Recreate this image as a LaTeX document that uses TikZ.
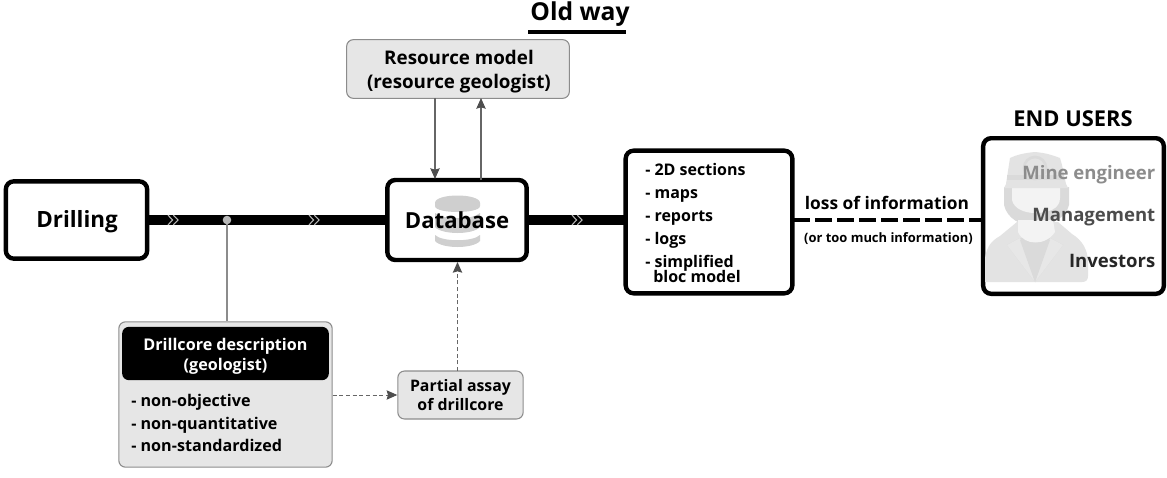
\documentclass[tikz,border=0pt]{standalone}
\usepackage{fontspec}
\setmainfont{Open Sans}[BoldFont={Open Sans Bold}]
\usetikzlibrary{arrows.meta}
\definecolor{boxgray}{HTML}{E6E6E6}
\definecolor{edgegray}{HTML}{8C8C8C}
\definecolor{linegray}{HTML}{666666}
\definecolor{arrowgray}{HTML}{4D4D4D}
\definecolor{minerA}{HTML}{E3E3E3}
\definecolor{minerB}{HTML}{DADADA}
\definecolor{minerC}{HTML}{F3F3F3}
\definecolor{iconGray}{HTML}{CFCFCF}
\tikzset{
 heavybox/.style={draw=black,line width=3.3pt,rounded corners=6pt,fill=white,inner sep=0pt},
 graybox/.style={draw=edgegray,line width=0.8pt,rounded corners=5pt,fill=boxgray,inner sep=0pt},
 txt/.style={font=\bfseries\fontsize{#1}{#1}\selectfont,inner sep=0pt,align=center},
 ltxt/.style={font=\bfseries\fontsize{#1}{#1}\selectfont,inner sep=0pt,anchor=base west},
 rtxt/.style={font=\bfseries\fontsize{#1}{#1}\selectfont,inner sep=0pt,anchor=base east},
 resfont/.style={font=\bfseries\fontsize{14.1}{18}\selectfont,inner sep=0pt,align=center},
 corefont/.style={font=\bfseries\fontsize{12.1}{15}\selectfont,inner sep=0pt,align=center},
 assayfont/.style={font=\bfseries\fontsize{11.9}{14.4}\selectfont,inner sep=0pt,align=center},
 flowline/.style={line width=7.5pt,draw=black},
 thinline/.style={draw=linegray,line width=0.8pt,-{Stealth[length=8pt,width=7pt,inset=1pt,color=arrowgray]}},
 dashline/.style={draw=linegray,line width=0.7pt,densely dashed,-{Stealth[length=8pt,width=7pt,inset=1pt,color=arrowgray]}},
}
\newcommand{\chevrons}[1]{\draw[white!72!black,line width=0.8pt] ([xshift=-4.5pt,yshift=3.6pt]#1) -- ([xshift=-1pt]#1) -- ([xshift=-4.5pt,yshift=-3.6pt]#1) ([xshift=-0.5pt,yshift=3.6pt]#1) -- ([xshift=3pt]#1) -- ([xshift=-0.5pt,yshift=-3.6pt]#1);}
\begin{document}
\begin{tikzpicture}[x=0.75pt,y=-0.75pt]
\useasboundingbox (0,0) rectangle (1167,478);
% title
\node[txt=18.5] (title) at (580,14) {Old way};
\coordinate (ula) at (528,32.5);
\coordinate (ulb) at (626,32.5);
\draw[black,line width=3pt] (ula) -- (ulb);
% flow lines
\coordinate (flowL) at (149,220);
\coordinate (flowM) at (386,220);
\coordinate (flowR) at (528,220);
\coordinate (flowE) at (625,220);
\draw[flowline] (flowL) -- (flowM);
\draw[flowline] (flowR) -- (flowE);
\coordinate (chA) at (174,220);
\coordinate (chB) at (315,220);
\coordinate (chC) at (578,220);
\chevrons{chA}\chevrons{chB}\chevrons{chC}
\node[heavybox,minimum width=106pt,minimum height=58pt] (drill) at (76.5,220) {};
\node[txt=16.8] at (77,222) {Drilling};
\node[heavybox,minimum width=104.5pt,minimum height=60pt] (db) at (457,220) {};
% database icon
\fill[iconGray] (435,203) .. controls (435,193) and (480,193) .. (480,203) -- (480,206) .. controls (480,214) and (435,214) .. (435,206) -- cycle;
\fill[iconGray] (435,213) .. controls (442,220) and (473,220) .. (480,213) -- (480,227) .. controls (473,235) and (442,235) .. (435,227) -- cycle;
\fill[iconGray] (435,235) .. controls (442,242) and (473,242) .. (480,235) -- (480,241) .. controls (473,249) and (442,249) .. (435,241) -- cycle;
\node[txt=16.6] at (457,220) {Database};
% resource model
\node[graybox,minimum width=167pt,minimum height=44pt] (res) at (458,69) {};
\node[resfont] at (459,71.5) {Resource model\\(resource geologist)};
\coordinate (resA) at (435,98);
\coordinate (dbA) at (435,179);
\coordinate (resB) at (481,98);
\coordinate (dbB) at (481,180);
\draw[thinline] (resA) -- (dbA);
\draw[thinline] (dbB) -- (resB);
% list box
\node[heavybox,minimum width=125pt,minimum height=107pt] (list) at (709,222) {};
\node[ltxt=12] at (645,175) {- 2D sections};
\node[ltxt=12] at (645,198) {- maps};
\node[ltxt=12] at (645,221) {- reports};
\node[ltxt=12] at (645,244) {- logs};
\node[ltxt=12] at (645,267) {- simplified};
\node[ltxt=12] at (653,282) {bloc model};
% loss
\node[txt=13] at (887,203) {loss of information};
\node[txt=9.7] at (888.5,239) {(or too much information)};
% end users
\node[txt=16.4] at (1073,118.5) {END USERS};
\node[heavybox,minimum width=135.5pt,minimum height=116.7pt] (users) at (1073.5,216) {};
\coordinate (lossA) at (793,220);
\draw[black,line width=2.7pt,dash pattern=on 12.5pt off 4pt] (lossA) -- (lossA -| users.west);
% miner
\fill[minerA] (985,282) -- (985,258) .. controls (987,245) and (993,240) .. (1000,236) -- (1017,222) -- (1058,222) -- (1072,234) .. controls (1082,240) and (1088,250) .. (1088,262) -- (1088,276) .. controls (1088,280) and (1086,282) .. (1082,282) -- cycle;
\fill[minerB] (1007,245) -- (1035,282) -- (1063,245) -- (1050,238) -- (1020,238) -- cycle;
\fill[minerA!85!white] (1020,238) -- (1007,245) -- (1035,282) -- cycle;
\fill[minerA!85!white] (1050,238) -- (1063,245) -- (1035,282) -- cycle;
\fill[minerB] (1020,240) -- (1035,282) -- (1050,240) -- cycle;
\fill[minerB] (1004,187) -- (1004,205) .. controls (1007,218) and (1020,226) .. (1035,226) .. controls (1050,226) and (1066,218) .. (1069,205) -- (1069,187) -- cycle;
\fill[minerC] (1018,220) -- (1018,232) .. controls (1024,246) and (1046,246) .. (1055,232) -- (1053,220) -- cycle;
\fill[minerC] (1012,187) -- (1012,200) .. controls (1014,209) and (1025,213) .. (1035,213) .. controls (1048,213) and (1060,209) .. (1060,198) -- (1060,187) -- cycle;
\fill[minerA] (1004,188) -- (1068,188) -- (1066,184) -- (1062,165) -- (1060,158) .. controls (1052,155) and (1046,153) .. (1035,152) .. controls (1024,153) and (1016,155) .. (1010,158) -- (1006,184) -- cycle;
\fill[minerB] (1007,175) rectangle (1064,180);
\draw[minerB,line width=2pt] (1035,168) circle[radius=11];
% end-user labels
\node[rtxt=13.9,text=black!45] at (1155.5,179) {Mine engineer};
\node[rtxt=13.9,text=black!70] at (1155.5,221) {Management};
\node[rtxt=13.9,text=black!85] at (1155.5,267) {Investors};
% drillcore
\node[graybox,minimum width=160pt,minimum height=109pt] (dc) at (225.5,394.5) {};
\node[fill=black,rounded corners=5pt,minimum width=155pt,minimum height=40pt,inner sep=0pt] (dchead) at (225.5,353.5) {};
\node[corefont,text=white] at (225.5,356) {Drillcore description\\(geologist)};
\node[ltxt=12.1] at (131,406) {- non-objective};
\node[ltxt=12.1] at (131,429) {- non-quantitative};
\node[ltxt=12.1] at (131,451.5) {- non-standardized};
\coordinate (junction) at (227,220);
\coordinate (dcTop) at (227,321);
\draw[edgegray,line width=0.9pt] (junction) -- (dcTop);
\fill[boxgray!80!black] (junction) circle[radius=4.3];
% assay
\node[graybox,minimum width=94pt,minimum height=36pt] (assay) at (460.5,395) {};
\node[assayfont] at (460.5,395) {Partial assay\\of drillcore};
\coordinate (assayTop) at (457.5,371);
\coordinate (dbBot) at (457.5,262);
\draw[dashline] (assayTop) -- (dbBot);
\draw[dashline] (dc.east |- assay.west) -- (assay.west);
\end{tikzpicture}
\end{document}
